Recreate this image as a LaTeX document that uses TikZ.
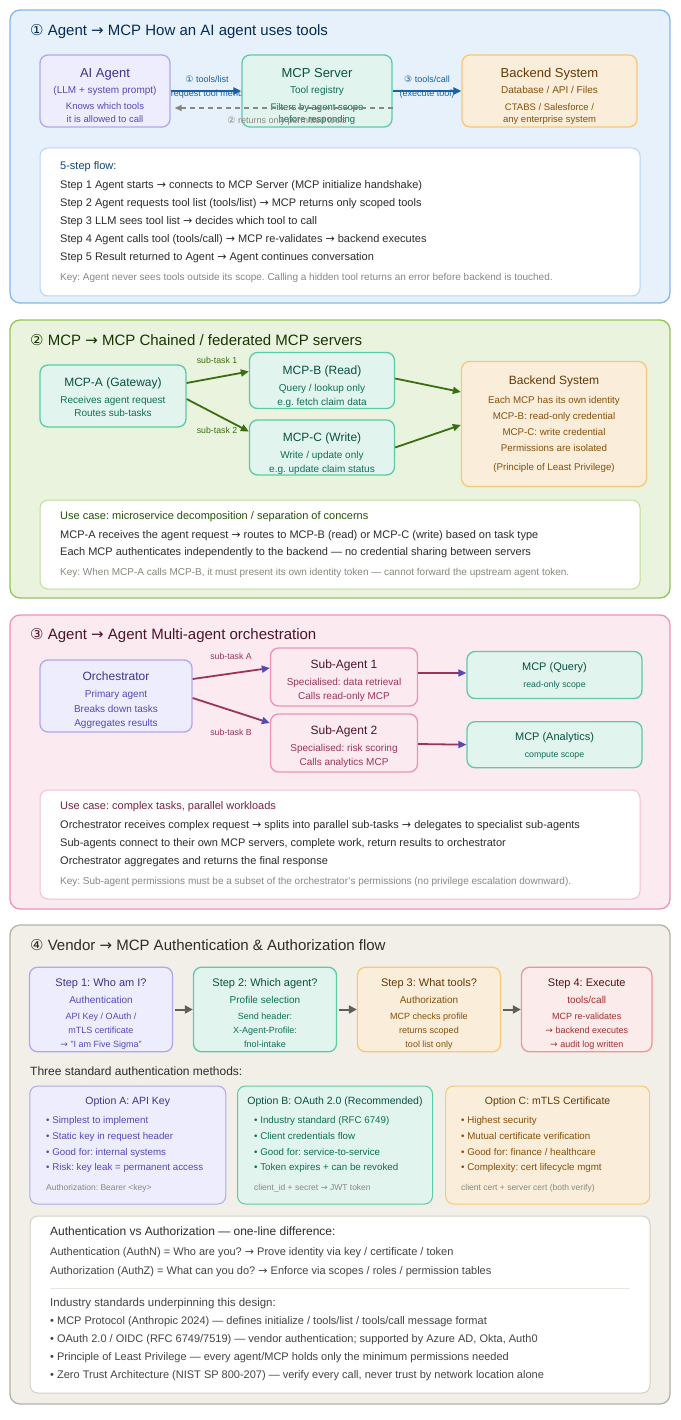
\documentclass[tikz,border=0pt]{standalone}
\usepackage{fontspec}
\setmainfont{Liberation Sans}
\newfontfamily\sym{DejaVu Sans}
\newcommand{\rarr}{{\sym →}}
\usetikzlibrary{arrows.meta}
\definecolor{blue50}{HTML}{E6F1FB}\definecolor{blue100}{HTML}{B5D4F4}\definecolor{blue200}{HTML}{85B7EB}
\definecolor{blue600}{HTML}{185FA5}\definecolor{blue800}{HTML}{0C447C}\definecolor{blue900}{HTML}{042C53}
\definecolor{purple50}{HTML}{EEEDFE}\definecolor{purple200}{HTML}{AFA9EC}\definecolor{purple600}{HTML}{534AB7}\definecolor{purple800}{HTML}{3C3489}
\definecolor{teal50}{HTML}{E1F5EE}\definecolor{teal200}{HTML}{5DCAA5}\definecolor{teal600}{HTML}{0F6E56}\definecolor{teal800}{HTML}{085041}
\definecolor{amber50}{HTML}{FAEEDA}\definecolor{amber100}{HTML}{FAC775}\definecolor{amber600}{HTML}{854F0B}\definecolor{amber800}{HTML}{633806}
\definecolor{green50}{HTML}{EAF3DE}\definecolor{green100}{HTML}{C0DD97}\definecolor{green200}{HTML}{97C459}\definecolor{green600}{HTML}{3B6D11}\definecolor{green800}{HTML}{27500A}\definecolor{green900}{HTML}{173404}
\definecolor{pink50}{HTML}{FBEAF0}\definecolor{pink100}{HTML}{F4C0D1}\definecolor{pink200}{HTML}{ED93B1}\definecolor{pink600}{HTML}{993556}\definecolor{pink800}{HTML}{72243E}\definecolor{pink900}{HTML}{4B1528}
\definecolor{red50}{HTML}{FCEBEB}\definecolor{red200}{HTML}{F09595}\definecolor{red600}{HTML}{A32D2D}\definecolor{red900}{HTML}{501313}
\definecolor{gray50}{HTML}{F1EFE8}\definecolor{gray100}{HTML}{D3D1C7}\definecolor{gray200}{HTML}{B4B2A9}\definecolor{gray400}{HTML}{888780}\definecolor{gray600}{HTML}{5F5E5A}\definecolor{gray800}{HTML}{444441}\definecolor{gray900}{HTML}{2C2C2A}
\definecolor{sepline}{HTML}{E8E6DF}
\tikzset{
  tx/.style={inner sep=0pt, anchor=mid},
  txl/.style={inner sep=0pt, anchor=mid west},
  fs/.style={font=\fontsize{#1}{#1}\selectfont},
  panel/.style={draw, rounded corners=10pt, line width=1.3pt, inner sep=0pt},
  card/.style={draw, rounded corners=8pt, line width=1pt, fill=white, inner sep=0pt},
  box/.style={draw, rounded corners=8pt, line width=1.3pt, inner sep=0pt},
  barrow/.style={draw=blue600, line width=2pt, -{Triangle[length=8pt,width=7pt]}},
  dasharrow/.style={draw=gray400, line width=1.5pt, dash pattern=on 5pt off 4pt, -{Triangle[length=7pt,width=6pt]}},
  garrow/.style={draw=green600, line width=1.8pt, -{Triangle[length=8pt,width=7pt]}},
  parrow/.style={draw=pink600, line width=1.8pt, -{Triangle[length=8pt,width=7pt,color=purple600]}},
  grarrow/.style={draw=gray600, line width=2pt, -{Triangle[length=8pt,width=8pt]}},
}
\begin{document}
\frenchspacing
\begin{tikzpicture}[x=1pt,y=-1pt]
\useasboundingbox (0,0) rectangle (680,1420);
\fill[white] (0,0) rectangle (680,1420);

% ================= Section 1 =================
\node[panel, fill=blue50, draw=blue200, minimum width=660pt, minimum height=293pt] (p1) at (340,156.5) {};
\node[txl, fs=15, text=blue900] (p1t) at (30,33) {{\sym ①} Agent \rarr{} MCP How an AI agent uses tools};
\node[tx, fs=9, text=blue600] (l1a) at (207,80) {{\sym ①} tools/list};
\node[tx, fs=9, text=blue600] (l1b) at (207,94) {(request tool menu)};
\node[tx, fs=9, text=blue600] (l3a) at (427,80) {{\sym ③} tools/call};
\node[tx, fs=9, text=blue600] (l3b) at (427,94) {(execute tool)};
\node[box, fill=purple50, draw=purple200, minimum width=130pt, minimum height=72pt] (ai) at (105,91) {};
\node[box, fill=teal50, draw=teal200, minimum width=150pt, minimum height=72pt] (mcp) at (317,91) {};
\node[box, fill=amber50, draw=amber100, minimum width=175pt, minimum height=72pt] (be1) at (549.5,91) {};
\node[tx, fs=13, text=purple800] (aiT) at (105,75) {AI Agent};
\node[tx, fs=10, text=purple600] (aiS) at (105,91) {(LLM + system prompt)};
\node[tx, fs=9.5, text=purple600] (aiL1) at (105,107) {Knows which tools};
\node[tx, fs=9.5, text=purple600] (aiL2) at (105,120) {it is allowed to call};
\node[tx, fs=13, text=teal800] (mcpT) at (317,75) {MCP Server};
\node[tx, fs=10, text=teal600] (mcpS) at (317,91) {Tool registry};
\node[tx, fs=9.5, text=teal600] (mcpL1) at (317,108) {Filters by agent scope};
\node[tx, fs=9.5, text=teal600] (mcpL2) at (317,120) {before responding};
\node[tx, fs=13, text=amber800] (be1T) at (549.5,75) {Backend System};
\node[tx, fs=10, text=amber600] (be1S) at (549.5,91) {Database / API / Files};
\node[tx, fs=9.5, text=amber600] (be1L1) at (549.5,108) {CTABS / Salesforce /};
\node[tx, fs=9.5, text=amber600] (be1L2) at (549.5,120) {any enterprise system};
\draw[barrow] (ai.east) -- (mcp.west);
\draw[barrow] (mcp.east) -- (be1.west);
\draw[dasharrow] ([yshift=-17pt]mcp.east) -- ([xshift=4pt,yshift=-17pt]ai.east);
\node[tx, fs=9, text=gray400] (l2) at (287,121) {{\sym ②} returns only permitted tools};

\node[card, draw=blue100, minimum width=600pt, minimum height=148pt] (c1) at (340,222) {};
\node[txl, fs=11, text=blue800] (c1h) at (60,167) {5-step flow:};
\node[txl, fs=11, text=gray900] (c1a) at (60,186) {Step 1 Agent starts \rarr{} connects to MCP Server (MCP initialize handshake)};
\node[txl, fs=11, text=gray900] (c1b) at (60,204) {Step 2 Agent requests tool list (tools/list) \rarr{} MCP returns only scoped tools};
\node[txl, fs=11, text=gray900] (c1c) at (60,222) {Step 3 LLM sees tool list \rarr{} decides which tool to call};
\node[txl, fs=11, text=gray900] (c1d) at (60,240) {Step 4 Agent calls tool (tools/call) \rarr{} MCP re-validates \rarr{} backend executes};
\node[txl, fs=11, text=gray900] (c1e) at (60,258) {Step 5 Result returned to Agent \rarr{} Agent continues conversation};
\node[txl, fs=10, text=gray400] (c1k) at (60,278) {Key: Agent never sees tools outside its scope. Calling a hidden tool returns an error before backend is touched.};

% ================= Section 2 =================
\node[panel, fill=green50, draw=green200, minimum width=660pt, minimum height=278pt] (p2) at (340,459) {};
\node[txl, fs=15, text=green900] (p2t) at (30,343) {{\sym ②} MCP \rarr{} MCP Chained / federated MCP servers};
\node[box, fill=teal50, draw=teal200, minimum width=146pt, minimum height=62pt] (ma) at (113,396) {};
\node[box, fill=teal50, draw=teal200, minimum width=145pt, minimum height=56pt] (mb) at (322,380.5) {};
\node[box, fill=teal50, draw=teal200, minimum width=145pt, minimum height=55pt] (mc) at (322,447.5) {};
\node[box, fill=amber50, draw=amber100, minimum width=185pt, minimum height=125pt] (be2) at (554,424) {};
\node[tx, fs=12, text=teal800] (maT) at (113,384) {MCP-A (Gateway)};
\node[tx, fs=10, text=teal600] (maL1) at (113,401) {Receives agent request};
\node[tx, fs=10, text=teal600] (maL2) at (113,414) {Routes sub-tasks};
\node[tx, fs=12, text=teal800] (mbT) at (322,372) {MCP-B (Read)};
\node[tx, fs=10, text=teal600] (mbL1) at (322,389) {Query / lookup only};
\node[tx, fs=10, text=teal600] (mbL2) at (322,402.5) {e.g. fetch claim data};
\node[tx, fs=12, text=teal800] (mcT) at (322,439) {MCP-C (Write)};
\node[tx, fs=10, text=teal600] (mcL1) at (322,456) {Write / update only};
\node[tx, fs=10, text=teal600] (mcL2) at (322,470) {e.g. update claim status};
\node[tx, fs=12, text=amber800] (be2T) at (554,382) {Backend System};
\node[tx, fs=9.75, text=amber600] (be2L1) at (554,400.5) {Each MCP has its own identity};
\node[tx, fs=9.75, text=amber600] (be2L2) at (554,416.5) {MCP-B: read-only credential};
\node[tx, fs=9.75, text=amber600] (be2L3) at (554,432.5) {MCP-C: write credential};
\node[tx, fs=9.75, text=amber600] (be2L4) at (554,448.5) {Permissions are isolated};
\node[tx, fs=9.75, text=amber600] (be2L5) at (554,468) {(Principle of Least Privilege)};
\draw[garrow] ([yshift=13pt]ma.east) -- ([yshift=9pt]mb.west);
\draw[garrow] ([yshift=-3pt]ma.east) -- ([yshift=16pt]mc.west);
\draw[garrow] ([yshift=2pt]mb.east) -- ([yshift=32pt]be2.west);
\draw[garrow] (mc.east) -- ([yshift=-1pt]be2.west);
\node[tx, fs=8.75, text=green600] (s21) at (217,361) {sub-task 1};
\node[tx, fs=8.75, text=green600] (s22) at (217,431) {sub-task 2};

\node[card, draw=green100, minimum width=600pt, minimum height=89pt] (c2) at (340,544.5) {};
\node[txl, fs=11, text=green800] (c2h) at (60,517) {Use case: microservice decomposition / separation of concerns};
\node[txl, fs=11, text=gray900] (c2a) at (60,536) {MCP-A receives the agent request \rarr{} routes to MCP-B (read) or MCP-C (write) based on task type};
\node[txl, fs=11, text=gray900] (c2b) at (60,553) {Each MCP authenticates independently to the backend — no credential sharing between servers};
\node[txl, fs=10, text=gray400] (c2k) at (60,573) {Key: When MCP-A calls MCP-B, it must present its own identity token — cannot forward the upstream agent token.};

% ================= Section 3 =================
\node[panel, fill=pink50, draw=pink200, minimum width=660pt, minimum height=294pt] (p3) at (340,762) {};
\node[txl, fs=15, text=pink900] (p3t) at (30,637) {{\sym ③} Agent \rarr{} Agent Multi-agent orchestration};
\node[box, fill=purple50, draw=purple200, minimum width=152pt, minimum height=72pt] (or) at (116,696) {};
\node[box, fill=pink50, draw=pink200, minimum width=147pt, minimum height=58pt] (sa1) at (344,677) {};
\node[box, fill=pink50, draw=pink200, minimum width=147pt, minimum height=58pt] (sa2) at (344,743) {};
\node[box, fill=teal50, draw=teal200, minimum width=175pt, minimum height=47pt] (mq) at (554.5,675) {};
\node[box, fill=teal50, draw=teal200, minimum width=175pt, minimum height=46pt] (man) at (554.5,744.7) {};
\node[tx, fs=12, text=purple800] (orT) at (116,678) {Orchestrator};
\node[tx, fs=10, text=purple600] (orL1) at (116,694.5) {Primary agent};
\node[tx, fs=10, text=purple600] (orL2) at (116,710) {Breaks down tasks};
\node[tx, fs=10, text=purple600] (orL3) at (116,724) {Aggregates results};
\node[tx, fs=12, text=pink900] (sa1T) at (344,666) {Sub-Agent 1};
\node[tx, fs=10, text=pink600] (sa1L1) at (344,682.5) {Specialised: data retrieval};
\node[tx, fs=10, text=pink600] (sa1L2) at (344,697) {Calls read-only MCP};
\node[tx, fs=12, text=pink900] (sa2T) at (344,732) {Sub-Agent 2};
\node[tx, fs=10, text=pink600] (sa2L1) at (344,748.5) {Specialised: risk scoring};
\node[tx, fs=10, text=pink600] (sa2L2) at (344,763) {Calls analytics MCP};
\node[tx, fs=11, text=teal800] (mqT) at (554.5,668) {MCP (Query)};
\node[tx, fs=8.75, text=teal600] (mqL) at (554.5,685) {read-only scope};
\node[tx, fs=11, text=teal800] (manT) at (554.5,738) {MCP (Analytics)};
\node[tx, fs=8.75, text=teal600] (manL) at (554.5,755) {compute scope};
\draw[parrow] ([yshift=17pt]or.east) -- ([yshift=9pt]sa1.west);
\draw[parrow] ([yshift=-2pt]or.east) -- ([yshift=20pt]sa2.west);
\draw[parrow] ([yshift=4pt]sa1.east) -- ([yshift=2pt]mq.west);
\draw[parrow] ([yshift=-1pt]sa2.east) -- (man.west);
\node[tx, fs=8.75, text=pink600] (s3a) at (231,657) {sub-task A};
\node[tx, fs=8.75, text=pink600] (s3b) at (231,733) {sub-task B};

\node[card, draw=pink100, minimum width=600pt, minimum height=109pt] (c3) at (340,844.5) {};
\node[txl, fs=11, text=pink800] (c3h) at (60,807) {Use case: complex tasks, parallel workloads};
\node[txl, fs=11, text=gray900] (c3a) at (60,826) {Orchestrator receives complex request \rarr{} splits into parallel sub-tasks \rarr{} delegates to specialist sub-agents};
\node[txl, fs=11, text=gray900] (c3b) at (60,843.5) {Sub-agents connect to their own MCP servers, complete work, return results to orchestrator};
\node[txl, fs=11, text=gray900] (c3c) at (60,862) {Orchestrator aggregates and returns the final response};
\node[txl, fs=10, text=gray400] (c3k) at (60,882) {Key: Sub-agent permissions must be a subset of the orchestrator's permissions (no privilege escalation downward).};

% ================= Section 4 =================
\node[panel, fill=gray50, draw=gray200, minimum width=660pt, minimum height=479pt] (p4) at (340,1164.5) {};
\node[txl, fs=15, text=gray900] (p4t) at (30,948) {{\sym ④} Vendor \rarr{} MCP Authentication \& Authorization flow};
\node[box, fill=purple50, draw=purple200, minimum width=143pt, minimum height=84.5pt] (st1) at (101,1009.5) {};
\node[box, fill=teal50, draw=teal200, minimum width=143pt, minimum height=84.5pt] (st2) at (265,1009.5) {};
\node[box, fill=amber50, draw=amber100, minimum width=143pt, minimum height=84.5pt] (st3) at (429,1009.5) {};
\node[box, fill=red50, draw=red200, minimum width=130.5pt, minimum height=84.5pt] (st4) at (586.75,1009.5) {};
\node[tx, fs=11, text=purple800] (st1T) at (101,984) {Step 1: Who am I?};
\node[tx, fs=10, text=purple600] (st1S) at (101,1000.5) {Authentication};
\node[tx, fs=9, text=purple600] (st1a) at (101,1016.5) {API Key / OAuth /};
\node[tx, fs=9, text=purple600] (st1b) at (101,1030.5) {mTLS certificate};
\node[tx, fs=9, text=purple600] (st1c) at (101,1044.5) {\rarr{} "I am Five Sigma"};
\node[tx, fs=11, text=teal800] (st2T) at (265,984) {Step 2: Which agent?};
\node[tx, fs=10, text=teal600] (st2S) at (265,1000.5) {Profile selection};
\node[tx, fs=9, text=teal600] (st2a) at (265,1016.5) {Send header:};
\node[tx, fs=9, text=teal600] (st2b) at (265,1030.5) {X-Agent-Profile:};
\node[tx, fs=9, text=teal600] (st2c) at (265,1044.5) {fnol-intake};
\node[tx, fs=11, text=amber800] (st3T) at (429,984) {Step 3: What tools?};
\node[tx, fs=10, text=amber600] (st3S) at (429,1000.5) {Authorization};
\node[tx, fs=9, text=amber600] (st3a) at (429,1016.5) {MCP checks profile};
\node[tx, fs=9, text=amber600] (st3b) at (429,1030.5) {returns scoped};
\node[tx, fs=9, text=amber600] (st3c) at (429,1044.5) {tool list only};
\node[tx, fs=11, text=red900] (st4T) at (586.75,984) {Step 4: Execute};
\node[tx, fs=10, text=red600] (st4S) at (586.75,1000.5) {tools/call};
\node[tx, fs=9, text=red600] (st4a) at (586.75,1016.5) {MCP re-validates};
\node[tx, fs=9, text=red600] (st4b) at (586.75,1030.5) {\rarr{} backend executes};
\node[tx, fs=9, text=red600] (st4c) at (586.75,1044.5) {\rarr{} audit log written};
\draw[grarrow] ([xshift=1.5pt]st1.east) -- (st2.west);
\draw[grarrow] ([xshift=1.5pt]st2.east) -- (st3.west);
\draw[grarrow] ([xshift=1.5pt]st3.east) -- (st4.west);

\node[txl, fs=12, text=gray900] (m3) at (30,1073) {Three standard authentication methods:};
\node[box, fill=purple50, draw=purple200, line width=1pt, minimum width=196pt, minimum height=118pt] (oa) at (127.75,1145) {};
\node[box, fill=teal50, draw=teal200, line width=1pt, minimum width=195pt, minimum height=118pt] (ob) at (335,1145) {};
\node[box, fill=amber50, draw=amber100, line width=1pt, minimum width=204pt, minimum height=118pt] (oc) at (547.6,1145) {};
\node[tx, fs=10.5, text=purple800] (oaT) at (127.75,1102) {Option A: API Key};
\node[txl, fs=9.75, text=purple600] (oa1) at (46,1121) {• Simplest to implement};
\node[txl, fs=9.75, text=purple600] (oa2) at (46,1137) {• Static key in request header};
\node[txl, fs=9.75, text=purple600] (oa3) at (46,1152.5) {• Good for: internal systems};
\node[txl, fs=9.75, text=purple600] (oa4) at (46,1168) {• Risk: key leak = permanent access};
\node[txl, fs=8.5, text=gray400] (oaF) at (46,1188) {Authorization: Bearer <key>};
\node[tx, fs=10.5, text=teal800] (obT) at (335,1102) {Option B: OAuth 2.0 (Recommended)};
\node[txl, fs=9.75, text=teal600] (ob1) at (254,1121) {• Industry standard (RFC 6749)};
\node[txl, fs=9.75, text=teal600] (ob2) at (254,1137) {• Client credentials flow};
\node[txl, fs=9.75, text=teal600] (ob3) at (254,1152.5) {• Good for: service-to-service};
\node[txl, fs=9.75, text=teal600] (ob4) at (254,1168) {• Token expires + can be revoked};
\node[txl, fs=8.5, text=gray400] (obF) at (254,1188) {client\_id + secret \rarr{} JWT token};
\node[tx, fs=10.5, text=amber800] (ocT) at (547.6,1102) {Option C: mTLS Certificate};
\node[txl, fs=9.75, text=amber600] (oc1) at (461,1121) {• Highest security};
\node[txl, fs=9.75, text=amber600] (oc2) at (461,1137) {• Mutual certificate verification};
\node[txl, fs=9.75, text=amber600] (oc3) at (461,1152.5) {• Good for: finance / healthcare};
\node[txl, fs=9.75, text=amber600] (oc4) at (461,1168) {• Complexity: cert lifecycle mgmt};
\node[txl, fs=8.5, text=gray400] (ocF) at (461,1188) {client cert + server cert (both verify)};

\node[card, draw=gray100, minimum width=620pt, minimum height=177pt] (c4) at (340,1304.5) {};
\node[txl, fs=12, text=gray900] (c4h) at (50,1233) {Authentication vs Authorization — one-line difference:};
\node[txl, fs=11, text=gray800] (c4a) at (50,1253) {Authentication (AuthN) = Who are you? \rarr{} Prove identity via key / certificate / token};
\node[txl, fs=11, text=gray800] (c4b) at (50,1272) {Authorization (AuthZ) = What can you do? \rarr{} Enforce via scopes / roles / permission tables};
\draw[sepline, line width=1pt] (50,1288) -- (630,1288);
\node[txl, fs=11.5, text=gray800] (c4i) at (50,1304) {Industry standards underpinning this design:};
\node[txl, fs=11, text=gray800] (c4j) at (50,1322) {• MCP Protocol (Anthropic 2024) — defines initialize / tools/list / tools/call message format};
\node[txl, fs=11, text=gray800] (c4k) at (50,1340) {• OAuth 2.0 / OIDC (RFC 6749/7519) — vendor authentication; supported by Azure AD, Okta, Auth0};
\node[txl, fs=11, text=gray800] (c4l) at (50,1358) {• Principle of Least Privilege — every agent/MCP holds only the minimum permissions needed};
\node[txl, fs=11, text=gray800] (c4m) at (50,1376) {• Zero Trust Architecture (NIST SP 800-207) — verify every call, never trust by network location alone};
\end{tikzpicture}
\end{document}
